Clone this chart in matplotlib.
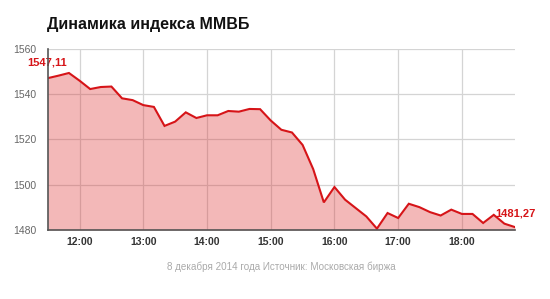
import matplotlib
matplotlib.use("Agg")
import matplotlib.pyplot as plt

times = ["11:30","11:40","11:50","12:00","12:10","12:20","12:30","12:40","12:50",
         "13:00","13:10","13:20","13:30","13:40","13:50","14:00","14:10","14:20",
         "14:30","14:40","14:50","15:00","15:10","15:20","15:30","15:40","15:50",
         "16:00","16:10","16:20","16:30","16:40","16:50","17:00","17:10","17:20",
         "17:30","17:40","17:50","18:00","18:10","18:20","18:30","18:40","18:50"]
values = [1547.11,1548.2,1549.4,1546.0,1542.3,1543.2,1543.4,1538.2,1537.4,
          1535.2,1534.4,1526.0,1527.9,1532.0,1529.5,1530.7,1530.7,1532.6,
          1532.3,1533.5,1533.4,1528.4,1524.3,1523.1,1517.6,1506.9,1492.2,
          1499.0,1493.4,1489.7,1486.0,1480.6,1487.5,1485.3,1491.6,1490.1,
          1487.9,1486.4,1489.0,1487.1,1487.1,1483.1,1486.7,1482.8,1481.27]
tick_labels = ["12:00","13:00","14:00","15:00","16:00","17:00","18:00"]
y_ticks = [1480, 1500, 1520, 1540, 1560]
title = "Динамика индекса ММВБ"
footer = "8 декабря 2014 года Источник: Московская биржа"

def to_min(t):
    h, m = t.split(":")
    return int(h) * 60 + int(m)

x = [to_min(t) for t in times]
xt = [to_min(t) for t in tick_labels]

plt.rcParams['font.family'] = ['Liberation Sans', 'DejaVu Sans']
fig = plt.figure(figsize=(5.5, 2.99), dpi=100)
ax = fig.add_axes([47.7/550, 1-230/299, (515-47.7)/550, (230-49)/299])

ax.grid(True, color="#d4d4d4", lw=0.9, zorder=0)
ax.set_axisbelow(True)
ax.fill_between(x, values, 1480, color="#dd2a2a", alpha=0.33, lw=0, zorder=1)
ax.plot(x, values, color="#d61418", lw=1.5, zorder=3, solid_joinstyle="miter")
ax.set_xlim(x[0], x[-1])
ax.set_ylim(1480, 1560)
ax.set_xticks(xt)
ax.set_xticklabels(tick_labels, fontsize=7.5, fontweight="bold", color="#333333")
ax.set_yticks(y_ticks)
ax.set_yticklabels([str(v) for v in y_ticks], fontsize=7.5, color="#666666")
ax.tick_params(length=0, axis="x", pad=5)
ax.tick_params(length=0, axis="y", pad=8)
for s in ["top", "right"]:
    ax.spines[s].set_visible(False)
for s in ["left", "bottom"]:
    ax.spines[s].set_color("#555555")
    ax.spines[s].set_linewidth(1.2)
    ax.spines[s].set_zorder(4)

ax.annotate(f"{values[0]:.2f}".replace(".", ","), (x[0], values[0]), xytext=(-15, 11),
            textcoords="offset points", color="#d61418", fontsize=8, fontweight="bold",
            ha="left", va="center", annotation_clip=False)
ax.annotate(f"{values[-1]:.2f}".replace(".", ","), (x[-1], values[-1]), xytext=(-14, 10),
            textcoords="offset points", color="#d61418", fontsize=8, fontweight="bold",
            ha="left", va="center", annotation_clip=False)

fig.text(47/550, 1-24/299, title, fontsize=11.5, fontweight="bold", color="#111111",
         ha="left", va="center")
fig.text(281/550, 1-267/299, footer, fontsize=7.1, color="#aaaaaa", ha="center", va="center")

fig.savefig("out.png", dpi=100)
